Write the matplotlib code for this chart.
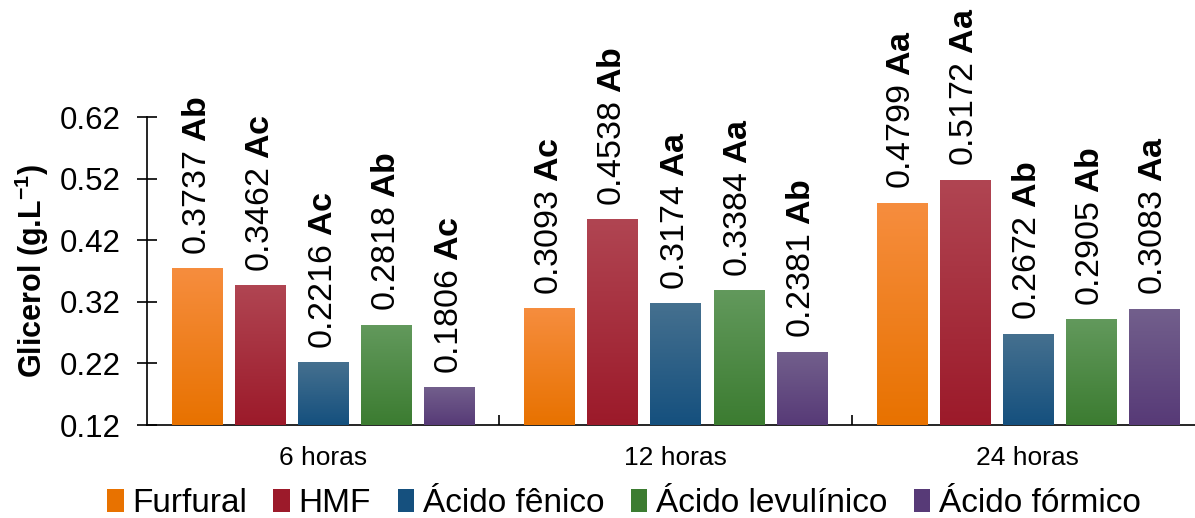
import matplotlib
matplotlib.use('Agg')
import matplotlib.pyplot as plt
import numpy as np
from matplotlib.colors import LinearSegmentedColormap
from matplotlib.patches import Patch

plt.rcParams['font.family'] = ['Liberation Sans', 'DejaVu Sans']
plt.rcParams['mathtext.fontset'] = 'custom'
plt.rcParams['mathtext.rm'] = 'Liberation Sans'
plt.rcParams['mathtext.bf'] = 'Liberation Sans:bold'

groups = ['6 horas', '12 horas', '24 horas']
series = ['Furfural', 'HMF', 'Ácido fênico', 'Ácido levulínico', 'Ácido fórmico']
values = [
    [0.3737, 0.3093, 0.4799],
    [0.3462, 0.4538, 0.5172],
    [0.2216, 0.3174, 0.2672],
    [0.2818, 0.3384, 0.2905],
    [0.1806, 0.2381, 0.3083],
]
letters = [
    ['Ab', 'Ac', 'Aa'],
    ['Ac', 'Ab', 'Aa'],
    ['Ac', 'Aa', 'Ab'],
    ['Ab', 'Aa', 'Ab'],
    ['Ac', 'Ab', 'Aa'],
]
# (top, bottom) colours of the gradient fill
colors = [
    ('#F68D3E', '#E87200'),
    ('#B04552', '#9C1A2A'),
    ('#45708F', '#15507E'),
    ('#62995C', '#3C7C31'),
    ('#725F8C', '#573A77'),
]
yticks = [0.12, 0.22, 0.32, 0.42, 0.52, 0.62]

fig = plt.figure(figsize=(11.95, 5.18), dpi=100)
ax = fig.add_axes([0.123, 0.1795, 0.8845, 0.5946])

x = np.arange(len(groups))
width = 0.142
pitch = 0.179

for i, name in enumerate(series):
    top_c, bot_c = colors[i]
    bars = ax.bar(x + (i - 2) * pitch, np.array(values[i]) - 0.12, width,
                  bottom=0.12, color=bot_c, label=name, zorder=2)
    cmap = LinearSegmentedColormap.from_list('g%d' % i, [bot_c, top_c])
    grad = np.linspace(0, 1, 100).reshape(-1, 1)
    for b, v, let in zip(bars, values[i], letters[i]):
        bx, by = b.get_x(), b.get_y()
        bw, bh = b.get_width(), b.get_height()
        ax.imshow(grad, cmap=cmap, origin='lower', aspect='auto',
                  extent=[bx, bx + bw, by, by + bh], zorder=3)
        ax.annotate(f'{v:.4f} ' + r'$\mathbf{' + let + '}$',
                    (bx + bw / 2, by + bh), xytext=(0, 10),
                    textcoords='offset points', rotation=90,
                    ha='center', va='bottom', fontsize=24.5,
                    annotation_clip=False)

ax.set_xlim(-0.5, 2.5)
ax.set_ylim(0.12, 0.62)
ax.set_yticks(yticks)
ax.set_yticklabels([f'{t:.2f}' for t in yticks], fontsize=22.5)
ax.set_xticks(x)
ax.set_xticklabels(groups, fontsize=19)
ax.set_xticks([0.5, 1.5], minor=True)
ax.tick_params(axis='x', which='major', length=0, pad=15)
ax.tick_params(axis='x', which='minor', direction='in', length=7, width=1.2)
ax.tick_params(axis='y', direction='inout', length=14, width=1.2, pad=12)

for s in ['top', 'right']:
    ax.spines[s].set_visible(False)
ax.spines['left'].set_linewidth(1.2)
ax.spines['bottom'].set_linewidth(1.2)

ax.set_ylabel(r'Glicerol (g.L$^{\mathbf{-1}}$)', fontsize=22, fontweight='bold', labelpad=6)

handles = [Patch(facecolor=c[1], label=n) for n, c in zip(series, colors)]
fig.legend(handles=handles, loc='lower center', ncol=5, frameon=False,
           bbox_to_anchor=(0.522, -0.06), fontsize=24, handlelength=0.5,
           handleheight=0.7, handletextpad=0.25, columnspacing=0.8)

fig.savefig('out.png', dpi=100)
